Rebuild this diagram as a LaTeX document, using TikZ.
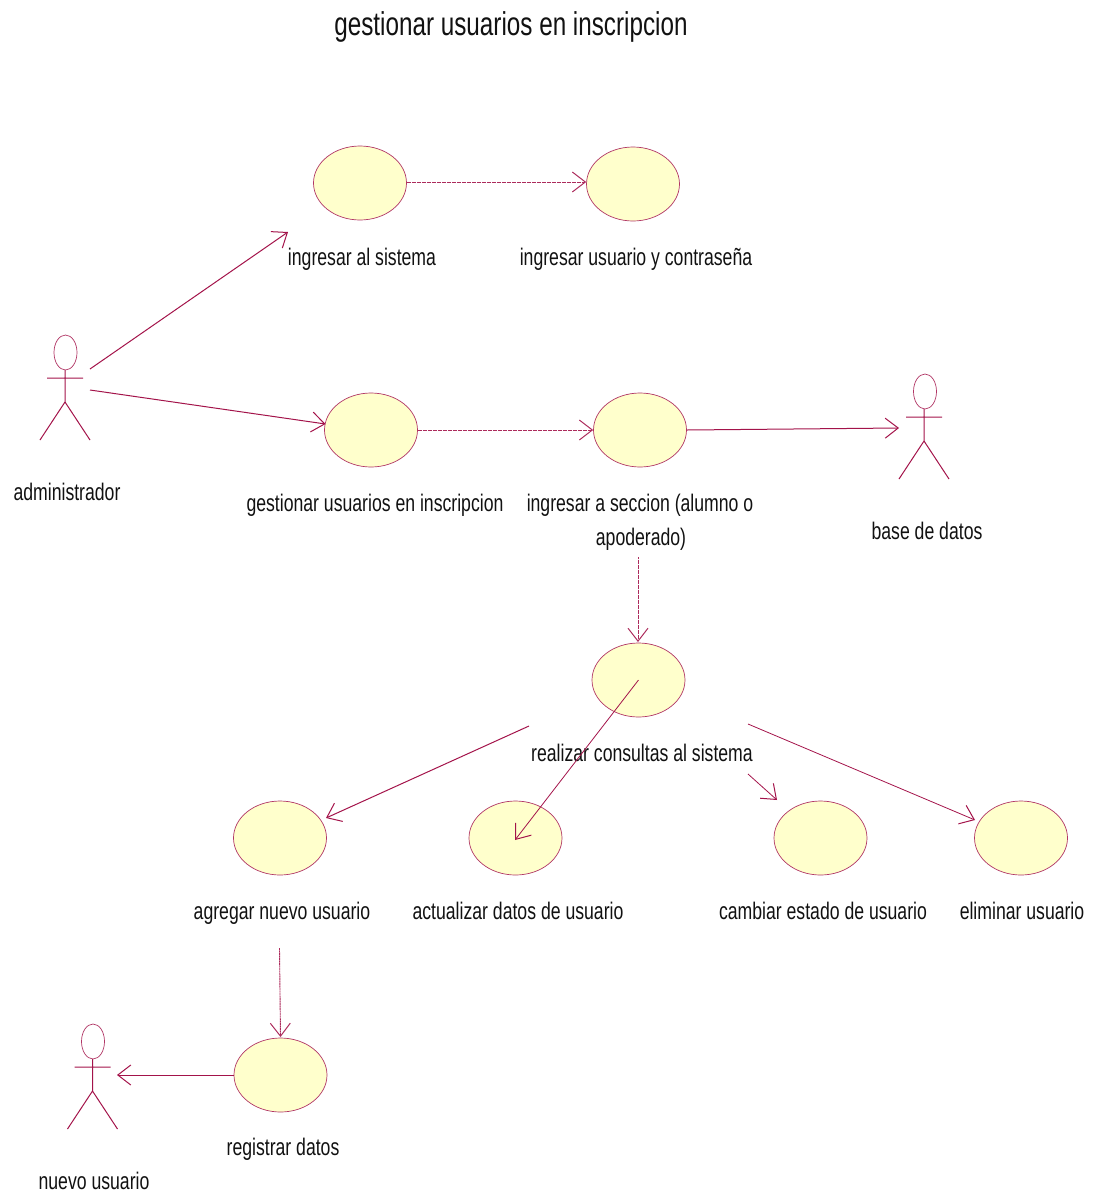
\documentclass[tikz,border=0pt]{standalone}
\usepackage{fontspec}
\setmainfont[FakeStretch=0.735]{Liberation Sans}
\usetikzlibrary{arrows.meta,shapes.geometric}
\definecolor{umlline}{HTML}{A3134A}
\definecolor{umlfill}{HTML}{FFFFCC}
\definecolor{umltext}{HTML}{111111}
\tikzset{
  usecase/.style={ellipse,draw=umlline!85,fill=umlfill,line width=0.7pt,minimum width=93pt,minimum height=74pt,inner sep=0pt},
  lab/.style={anchor=base,text=umltext,font=\fontsize{24}{28}\selectfont,inner sep=0pt,align=center},
  titlelab/.style={anchor=base,text=umltext,font=\fontsize{33}{38}\selectfont,inner sep=0pt},
  assoc/.style={draw=umlline,line width=1pt,-{Straight Barb[length=13pt,width=20pt,line width=1pt]}},
  dep/.style={draw=umlline!90,line width=0.9pt,dash pattern=on 2pt off 0.5pt,-{Straight Barb[length=13pt,width=20pt,line width=1pt]}},
  actorhead/.style={ellipse,draw=umlline!85,fill=white,line width=0.7pt,minimum width=23pt,minimum height=35pt,inner sep=0pt},
  actorline/.style={draw=umlline,line width=1pt},
  pics/actorfig/.style={code={
    \draw[actorline] (0,18) -- (0,50) (-18,26) -- (18,26) (-25,88) -- (0,50) -- (25,88);
  }}
}
\begin{document}
\begin{tikzpicture}[x=1pt,y=-1pt]
\path[use as bounding box] (0,0) rectangle (1098,1197);
% labels
\node[titlelab] (t0) at (511,35) {gestionar usuarios en inscripcion};
\node[lab] (l1) at (362,265) {ingresar al sistema};
\node[lab] (l2) at (636,265) {ingresar usuario y contraseña};
\node[lab] (l3) at (67,500) {administrador};
\node[lab] (l4) at (375,511) {gestionar usuarios en inscripcion};
\node[lab] (l5) at (640,511) {ingresar a seccion (alumno o};
\node[lab] (l6) at (641,545) {apoderado)};
\node[lab] (l7) at (927,539) {base de datos};
\node[lab] (l8) at (642,761) {realizar consultas al sistema};
\node[lab] (l9) at (282,919) {agregar nuevo usuario};
\node[lab] (l10) at (518,919) {actualizar datos de usuario};
\node[lab] (l11) at (823,919) {cambiar estado de usuario};
\node[lab] (l12) at (1022,919) {eliminar usuario};
\node[lab] (l13) at (283,1155) {registrar datos};
\node[lab] (l14) at (94,1189) {nuevo usuario};
% use cases
\node[usecase] (uc1) at (360,183) {};
\node[usecase] (uc2) at (633,184) {};
\node[usecase] (uc3) at (371,430) {};
\node[usecase] (uc4) at (640,430) {};
\node[usecase] (uc5) at (638.5,680) {};
\node[usecase] (uc6) at (280,838) {};
\node[usecase] (uc7) at (515.5,838) {};
\node[usecase] (uc8) at (820.5,838) {};
\node[usecase] (uc9) at (1021,838) {};
\node[usecase] (uc10) at (280.5,1075) {};
% actors
\pic at (65,352) {actorfig};
\node[actorhead] (admin) at (65.5,352.5) {};
\pic at (924,391) {actorfig};
\node[actorhead] (bd) at (925,391.5) {};
\pic at (92.5,1041) {actorfig};
\node[actorhead] (nuevo) at (93,1041.5) {};
% free ends
\coordinate (a1) at (90,369);
\coordinate (a2) at (288,232);
\coordinate (a3) at (90,390);
\coordinate (a4) at (325.5,424);
\coordinate (b1) at (899,428);
\coordinate (c1) at (638,557);
\coordinate (c2) at (638,642);
\coordinate (d1) at (529,726);
\coordinate (d2) at (326,818);
\coordinate (e1) at (748,724);
\coordinate (e2) at (975,820);
\coordinate (f1) at (748,774);
\coordinate (f2) at (777,800);
\coordinate (g1) at (279.5,948);
\coordinate (g2) at (280.5,1037);
\coordinate (h1) at (117,1075);
\coordinate (k1) at (515,840);
% connectors
\draw[assoc] (a1) -- (a2);
\draw[assoc] (a3) -- (a4);
\draw[dep] (uc1.east |- 0,182) -- (uc2.west |- 0,182);
\draw[dep] (uc3) -- (uc4);
\draw[assoc] (uc4.east) -- (b1);
\draw[dep] (c1) -- (c2);
\draw[assoc] (d1) -- (d2);
\draw[assoc,line width=0.8pt] (uc5.center) -- (k1);
\draw[assoc,line width=0.8pt] (f1) -- (f2);
\draw[assoc,line width=0.8pt] (e1) -- (e2);
\draw[dep] (g1) -- (g2);
\draw[assoc] (uc10.west) -- (h1);
\end{tikzpicture}
\end{document}
